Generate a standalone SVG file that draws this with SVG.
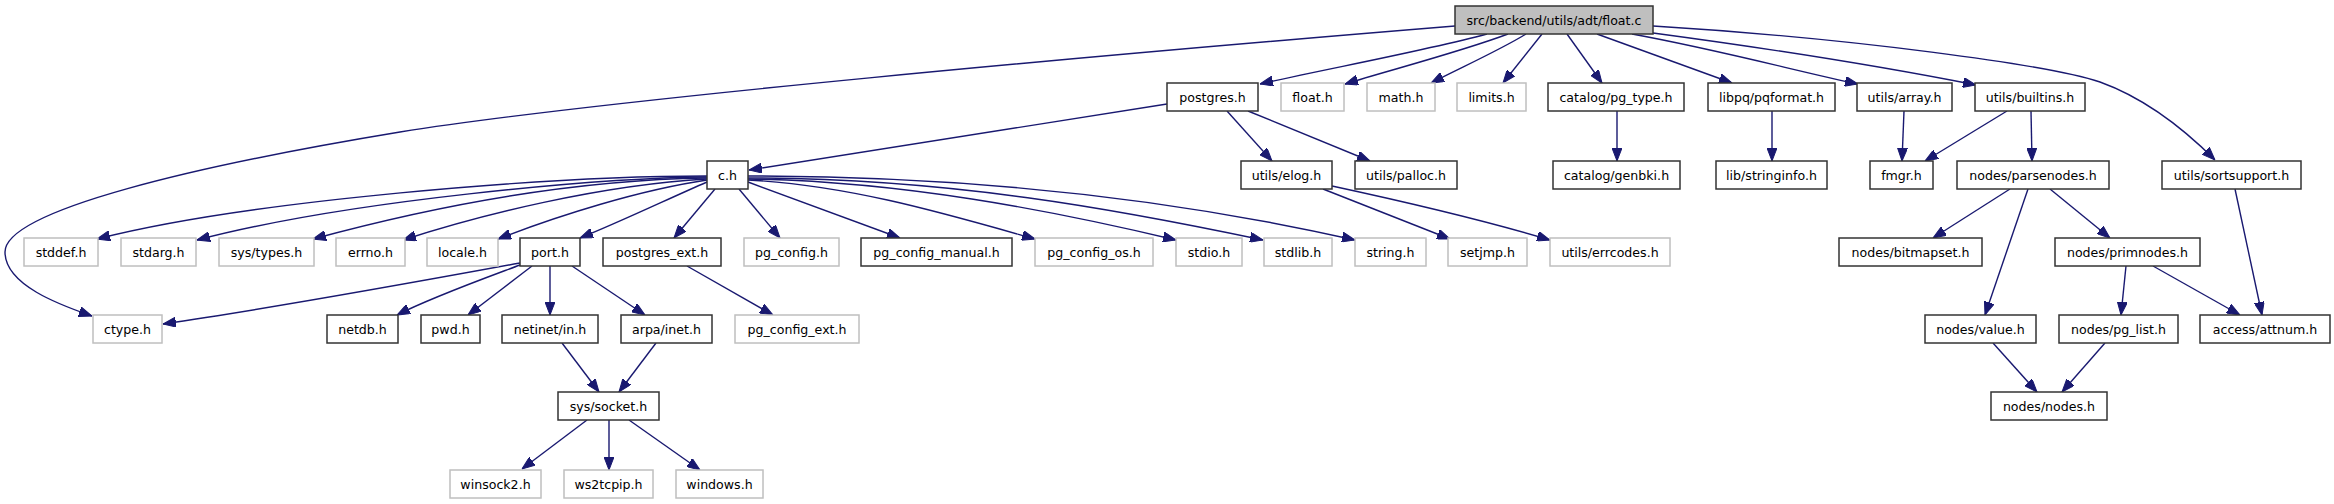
<svg xmlns="http://www.w3.org/2000/svg" width="2334" height="504" viewBox="0 0 2334 504">
<style>
rect{stroke-width:1.5}
.n rect{fill:#fff;stroke:#333}
.g rect{fill:#fff;stroke:#bfbfbf}
.r rect{fill:#bfbfbf;stroke:#333}
text{font-family:"DejaVu Sans","Liberation Sans",sans-serif;font-size:12.6px;fill:#000;text-anchor:middle}
#edges path{fill:none;stroke:#191970;stroke-width:1.4;marker-end:url(#a)}
</style>
<defs>
<marker id="a" viewBox="0 0 13 10" refX="13" refY="5" markerWidth="13" markerHeight="10" markerUnits="userSpaceOnUse" orient="auto">
<path d="M0,0 L13,5 L0,10 z" fill="#191970" stroke="#191970" stroke-width="1"/>
</marker>
</defs>
<rect width="2334" height="504" fill="#fff"/>
<g id="edges">
<path d="M1455,26 C1100,55 600,100 400,132 C200,165 5,210 5,252 C5,285 60,305 92,316"/>
<path d="M1487,34 C1420,52 1320,70 1260,84"/>
<path d="M1508,34 C1460,52 1390,70 1345,84"/>
<path d="M1526,34 C1500,50 1460,68 1431,83"/>
<path d="M1542,34 L1503,83"/>
<path d="M1567,34 L1602,83"/>
<path d="M1597,34 L1732,83"/>
<path d="M1632,34 C1720,50 1800,72 1858,84"/>
<path d="M1653,33 C1780,50 1900,70 1976,85"/>
<path d="M1653,26 C1850,38 2050,65 2100,82 C2150,100 2190,135 2215,160"/>
<path d="M1167,104 C1000,130 850,155 749,170"/>
<path d="M1227,111 L1272,161"/>
<path d="M1248,111 L1370,161"/>
<path d="M1617,111 L1617,161"/>
<path d="M1772,111 L1772,161"/>
<path d="M1904,111 L1902,161"/>
<path d="M2007,111 L1925,161"/>
<path d="M2031,111 L2032,161"/>
<path d="M2235,189 L2262,315"/>
<path d="M2010,189 L1933,238"/>
<path d="M2028,189 L1985,315"/>
<path d="M2050,189 L2110,238"/>
<path d="M2126,266 L2121,315"/>
<path d="M2153,266 L2240,315"/>
<path d="M1993,343 L2037,392"/>
<path d="M2105,343 L2062,392"/>
<path d="M1323,189 L1450,239"/>
<path d="M1332,186 C1420,205 1490,222 1550,240"/>
<path d="M707,176 C550,176 250,200 97,239"/>
<path d="M707,177 C600,178 350,200 197,240"/>
<path d="M707,178 C560,180 420,210 313,239"/>
<path d="M707,179 C600,185 480,215 403,240"/>
<path d="M707,180 C640,190 560,215 498,239"/>
<path d="M707,182 C670,198 620,222 580,238"/>
<path d="M715,189 L674,238"/>
<path d="M739,189 L780,238"/>
<path d="M748,182 L900,238"/>
<path d="M748,180 C850,185 950,215 1035,239"/>
<path d="M748,179 C900,181 1050,210 1176,240"/>
<path d="M748,178 C950,178 1120,210 1263,240"/>
<path d="M748,176 C1000,176 1200,205 1355,240"/>
<path d="M520,263 C400,285 260,310 163,324"/>
<path d="M520,265 C480,280 430,298 397,315"/>
<path d="M532,266 L468,315"/>
<path d="M550,266 L550,315"/>
<path d="M572,266 L645,315"/>
<path d="M687,266 L773,315"/>
<path d="M562,343 L599,392"/>
<path d="M656,343 L619,392"/>
<path d="M587,420 L522,469"/>
<path d="M609,420 L609,470"/>
<path d="M629,420 L700,470"/>
</g>
<g id="n_root" class="r"><rect x="1455" y="6" width="198" height="28"/><text x="1554" y="24.5">src/backend/utils/adt/float.c</text></g>
<g id="n_postgres" class="n"><rect x="1167" y="83" width="91" height="28"/><text x="1212.5" y="101.5">postgres.h</text></g>
<g id="n_float" class="g"><rect x="1281" y="83" width="63" height="28"/><text x="1312.5" y="101.5">float.h</text></g>
<g id="n_math" class="g"><rect x="1367" y="83" width="68" height="28"/><text x="1401" y="101.5">math.h</text></g>
<g id="n_limits" class="g"><rect x="1457" y="83" width="69" height="28"/><text x="1491.5" y="101.5">limits.h</text></g>
<g id="n_pg_type" class="n"><rect x="1548" y="83" width="136" height="28"/><text x="1616" y="101.5">catalog/pg_type.h</text></g>
<g id="n_pqformat" class="n"><rect x="1708" y="83" width="127" height="28"/><text x="1771.5" y="101.5">libpq/pqformat.h</text></g>
<g id="n_array" class="n"><rect x="1857" y="83" width="95" height="28"/><text x="1904.5" y="101.5">utils/array.h</text></g>
<g id="n_builtins" class="n"><rect x="1975" y="83" width="110" height="28"/><text x="2030" y="101.5">utils/builtins.h</text></g>
<g id="n_c" class="n"><rect x="707" y="161" width="41" height="28"/><text x="727.5" y="179.5">c.h</text></g>
<g id="n_elog" class="n"><rect x="1241" y="161" width="91" height="28"/><text x="1286.5" y="179.5">utils/elog.h</text></g>
<g id="n_palloc" class="n"><rect x="1355" y="161" width="102" height="28"/><text x="1406" y="179.5">utils/palloc.h</text></g>
<g id="n_genbki" class="n"><rect x="1553" y="161" width="127" height="28"/><text x="1616.5" y="179.5">catalog/genbki.h</text></g>
<g id="n_stringinfo" class="n"><rect x="1716" y="161" width="111" height="28"/><text x="1771.5" y="179.5">lib/stringinfo.h</text></g>
<g id="n_fmgr" class="n"><rect x="1870" y="161" width="63" height="28"/><text x="1901.5" y="179.5">fmgr.h</text></g>
<g id="n_parsenodes" class="n"><rect x="1957" y="161" width="152" height="28"/><text x="2033" y="179.5">nodes/parsenodes.h</text></g>
<g id="n_sortsupport" class="n"><rect x="2162" y="161" width="139" height="28"/><text x="2231.5" y="179.5">utils/sortsupport.h</text></g>
<g id="n_stddef" class="g"><rect x="24" y="238" width="74" height="28"/><text x="61" y="256.5">stddef.h</text></g>
<g id="n_stdarg" class="g"><rect x="121" y="238" width="75" height="28"/><text x="158.5" y="256.5">stdarg.h</text></g>
<g id="n_systypes" class="g"><rect x="219" y="238" width="95" height="28"/><text x="266.5" y="256.5">sys/types.h</text></g>
<g id="n_errno" class="g"><rect x="336" y="238" width="69" height="28"/><text x="370.5" y="256.5">errno.h</text></g>
<g id="n_locale" class="g"><rect x="427" y="238" width="71" height="28"/><text x="462.5" y="256.5">locale.h</text></g>
<g id="n_port" class="n"><rect x="520" y="238" width="60" height="28"/><text x="550" y="256.5">port.h</text></g>
<g id="n_postgres_ext" class="n"><rect x="603" y="238" width="118" height="28"/><text x="662" y="256.5">postgres_ext.h</text></g>
<g id="n_pg_config" class="g"><rect x="744" y="238" width="95" height="28"/><text x="791.5" y="256.5">pg_config.h</text></g>
<g id="n_pg_config_manual" class="n"><rect x="861" y="238" width="151" height="28"/><text x="936.5" y="256.5">pg_config_manual.h</text></g>
<g id="n_pg_config_os" class="g"><rect x="1035" y="238" width="118" height="28"/><text x="1094" y="256.5">pg_config_os.h</text></g>
<g id="n_stdio" class="g"><rect x="1176" y="238" width="66" height="28"/><text x="1209" y="256.5">stdio.h</text></g>
<g id="n_stdlib" class="g"><rect x="1264" y="238" width="68" height="28"/><text x="1298" y="256.5">stdlib.h</text></g>
<g id="n_string" class="g"><rect x="1355" y="238" width="71" height="28"/><text x="1390.5" y="256.5">string.h</text></g>
<g id="n_setjmp" class="g"><rect x="1448" y="238" width="79" height="28"/><text x="1487.5" y="256.5">setjmp.h</text></g>
<g id="n_errcodes" class="g"><rect x="1550" y="238" width="120" height="28"/><text x="1610" y="256.5">utils/errcodes.h</text></g>
<g id="n_bitmapset" class="n"><rect x="1839" y="238" width="143" height="28"/><text x="1910.5" y="256.5">nodes/bitmapset.h</text></g>
<g id="n_primnodes" class="n"><rect x="2055" y="238" width="145" height="28"/><text x="2127.5" y="256.5">nodes/primnodes.h</text></g>
<g id="n_ctype" class="g"><rect x="93" y="315" width="69" height="28"/><text x="127.5" y="333.5">ctype.h</text></g>
<g id="n_netdb" class="n"><rect x="327" y="315" width="71" height="28"/><text x="362.5" y="333.5">netdb.h</text></g>
<g id="n_pwd" class="n"><rect x="421" y="315" width="59" height="28"/><text x="450.5" y="333.5">pwd.h</text></g>
<g id="n_netinet" class="n"><rect x="502" y="315" width="96" height="28"/><text x="550" y="333.5">netinet/in.h</text></g>
<g id="n_arpa" class="n"><rect x="621" y="315" width="91" height="28"/><text x="666.5" y="333.5">arpa/inet.h</text></g>
<g id="n_pg_config_ext" class="g"><rect x="735" y="315" width="124" height="28"/><text x="797" y="333.5">pg_config_ext.h</text></g>
<g id="n_value" class="n"><rect x="1925" y="315" width="111" height="28"/><text x="1980.5" y="333.5">nodes/value.h</text></g>
<g id="n_pg_list" class="n"><rect x="2059" y="315" width="119" height="28"/><text x="2118.5" y="333.5">nodes/pg_list.h</text></g>
<g id="n_attnum" class="n"><rect x="2200" y="315" width="130" height="28"/><text x="2265" y="333.5">access/attnum.h</text></g>
<g id="n_socket" class="n"><rect x="558" y="392" width="101" height="28"/><text x="608.5" y="410.5">sys/socket.h</text></g>
<g id="n_nodes" class="n"><rect x="1991" y="392" width="116" height="28"/><text x="2049" y="410.5">nodes/nodes.h</text></g>
<g id="n_winsock2" class="g"><rect x="450" y="470" width="91" height="28"/><text x="495.5" y="488.5">winsock2.h</text></g>
<g id="n_ws2tcpip" class="g"><rect x="564" y="470" width="89" height="28"/><text x="608.5" y="488.5">ws2tcpip.h</text></g>
<g id="n_windows" class="g"><rect x="676" y="470" width="87" height="28"/><text x="719.5" y="488.5">windows.h</text></g>
</svg>
